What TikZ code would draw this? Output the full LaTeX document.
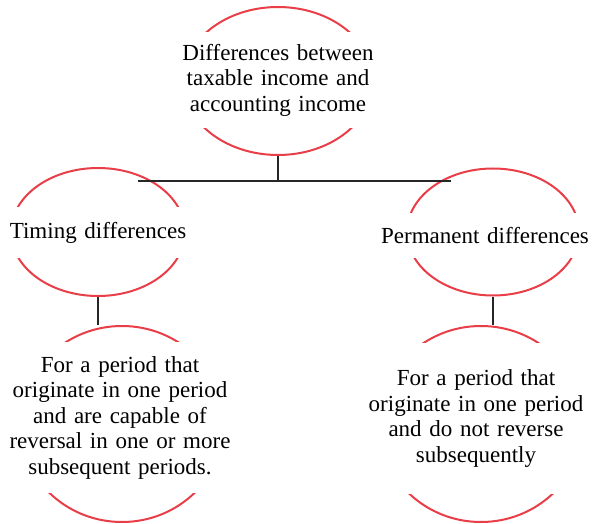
\documentclass[tikz,border=0pt]{standalone}
\usepackage{fontspec}
\setmainfont{Liberation Serif}
\usetikzlibrary{shapes.geometric}
\definecolor{ovalred}{RGB}{233,62,72}

\begin{document}
\begin{tikzpicture}[x=1pt,y=-1pt,
  oval/.style={ellipse,draw=ovalred,line width=2pt,inner sep=0pt},
  cover/.style={fill=white,inner sep=0pt,align=center,font=\fontsize{23}{25.5}\selectfont},
  link/.style={draw=black!85,line width=1.1pt}]
  \useasboundingbox (0,0) rectangle (592,524);
  % ovals first, the white text boxes hide their sides
  \node[oval,minimum width=190pt,minimum height=148pt] (diff) at (278,81) {};
  \node[oval,minimum width=174pt,minimum height=128pt] (timing) at (98,232) {};
  \node[oval,minimum width=172pt,minimum height=127pt] (perm) at (493,232) {};
  \node[oval,minimum width=204pt,minimum height=196pt] (timingEx) at (122,424) {};
  \node[oval,minimum width=204pt,minimum height=196pt] (permEx) at (481,424) {};

  \node[cover,text width=210pt,minimum height=96pt] (diffText) at (278,80)
    {Differences between\\taxable income and\\accounting income};
  \node[cover,text width=190pt,minimum height=51pt] (timingText) at (98,232.5)
    {Timing differences};
  \node[cover,text width=215pt,minimum height=45pt] (permText) at (485,235.5)
    {Permanent differences};
  \node[cover,text width=230pt,minimum height=151pt] (timingExText) at (120,417.5)
    {For a period that\\originate in one period\\and are capable of\\reversal in one or more\\subsequent periods.};
  \node[cover,text width=226pt,minimum height=151pt] (permExText) at (476,418.5)
    {For a period that\\originate in one period\\and do not reverse\\subsequently};

  % connectors
  \coordinate (hub) at (diff.south |- 0,181);
  \draw[link] (diff.south) -- (hub);
  \draw[link] (timing.55 |- hub) -- (perm.127 |- hub);
  \draw[link] (timing.south) -- (timing.south |- timingEx.north);
  \draw[link] (perm.south) -- (perm.south |- permEx.north);
\end{tikzpicture}
\end{document}
